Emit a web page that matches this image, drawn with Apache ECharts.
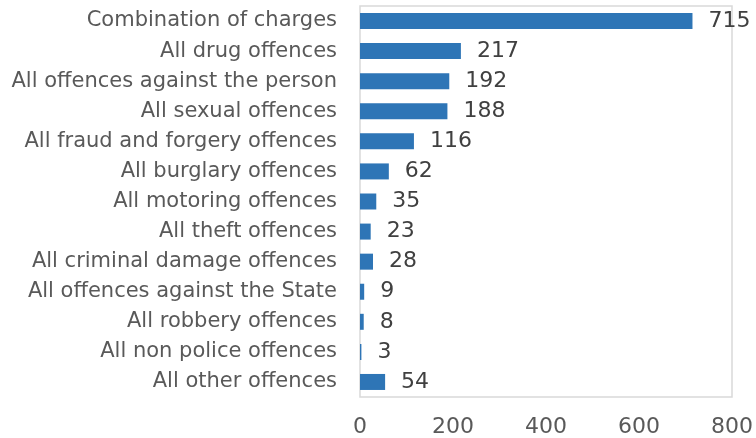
<!DOCTYPE html>
<html>
<head>
<meta charset="utf-8">
<script src="https://cdn.jsdelivr.net/npm/echarts@6/dist/echarts.min.js"></script>
<style>html,body{margin:0;padding:0;background:#fff}#c{width:756px;height:438px}</style>
</head>
<body>
<div id="c"></div>
<script>
const categories = [
  "Combination of charges",
  "All drug offences",
  "All offences against the person",
  "All sexual offences",
  "All fraud and forgery offences",
  "All burglary offences",
  "All motoring offences",
  "All theft offences",
  "All criminal damage offences",
  "All offences against the State",
  "All robbery offences",
  "All non police offences",
  "All other offences"
];
const values = [715, 217, 192, 188, 116, 62, 35, 23, 28, 9, 8, 3, 54];
const xTicks = [0, 200, 400, 600, 800];

const FONT = "DejaVu Sans";
const chart = echarts.init(document.getElementById('c'), null, {renderer: 'canvas'});
chart.setOption({
  animation: false,
  grid: {left: 360, right: 22, top: 6, bottom: 40, show: true, borderColor: '#d9d9d9', borderWidth: 1.5, containLabel: false},
  xAxis: {
    type: 'value', min: xTicks[0], max: xTicks[xTicks.length - 1], interval: 200,
    splitLine: {show: false}, axisLine: {show: false}, axisTick: {show: false},
    axisLabel: {color: '#595959', fontSize: 22, fontFamily: FONT, margin: 19}
  },
  yAxis: {
    type: 'category', data: categories, inverse: true,
    axisLine: {show: false}, axisTick: {show: false},
    axisLabel: {color: '#595959', fontSize: 21, fontFamily: FONT, margin: 23}
  },
  series: [{
    type: 'bar', data: values, barWidth: 16,
    itemStyle: {color: '#2E75B6'},
    label: {show: true, position: 'right', distance: 16, color: '#404040', fontSize: 22, fontFamily: FONT}
  }]
});
</script>
</body>
</html>
